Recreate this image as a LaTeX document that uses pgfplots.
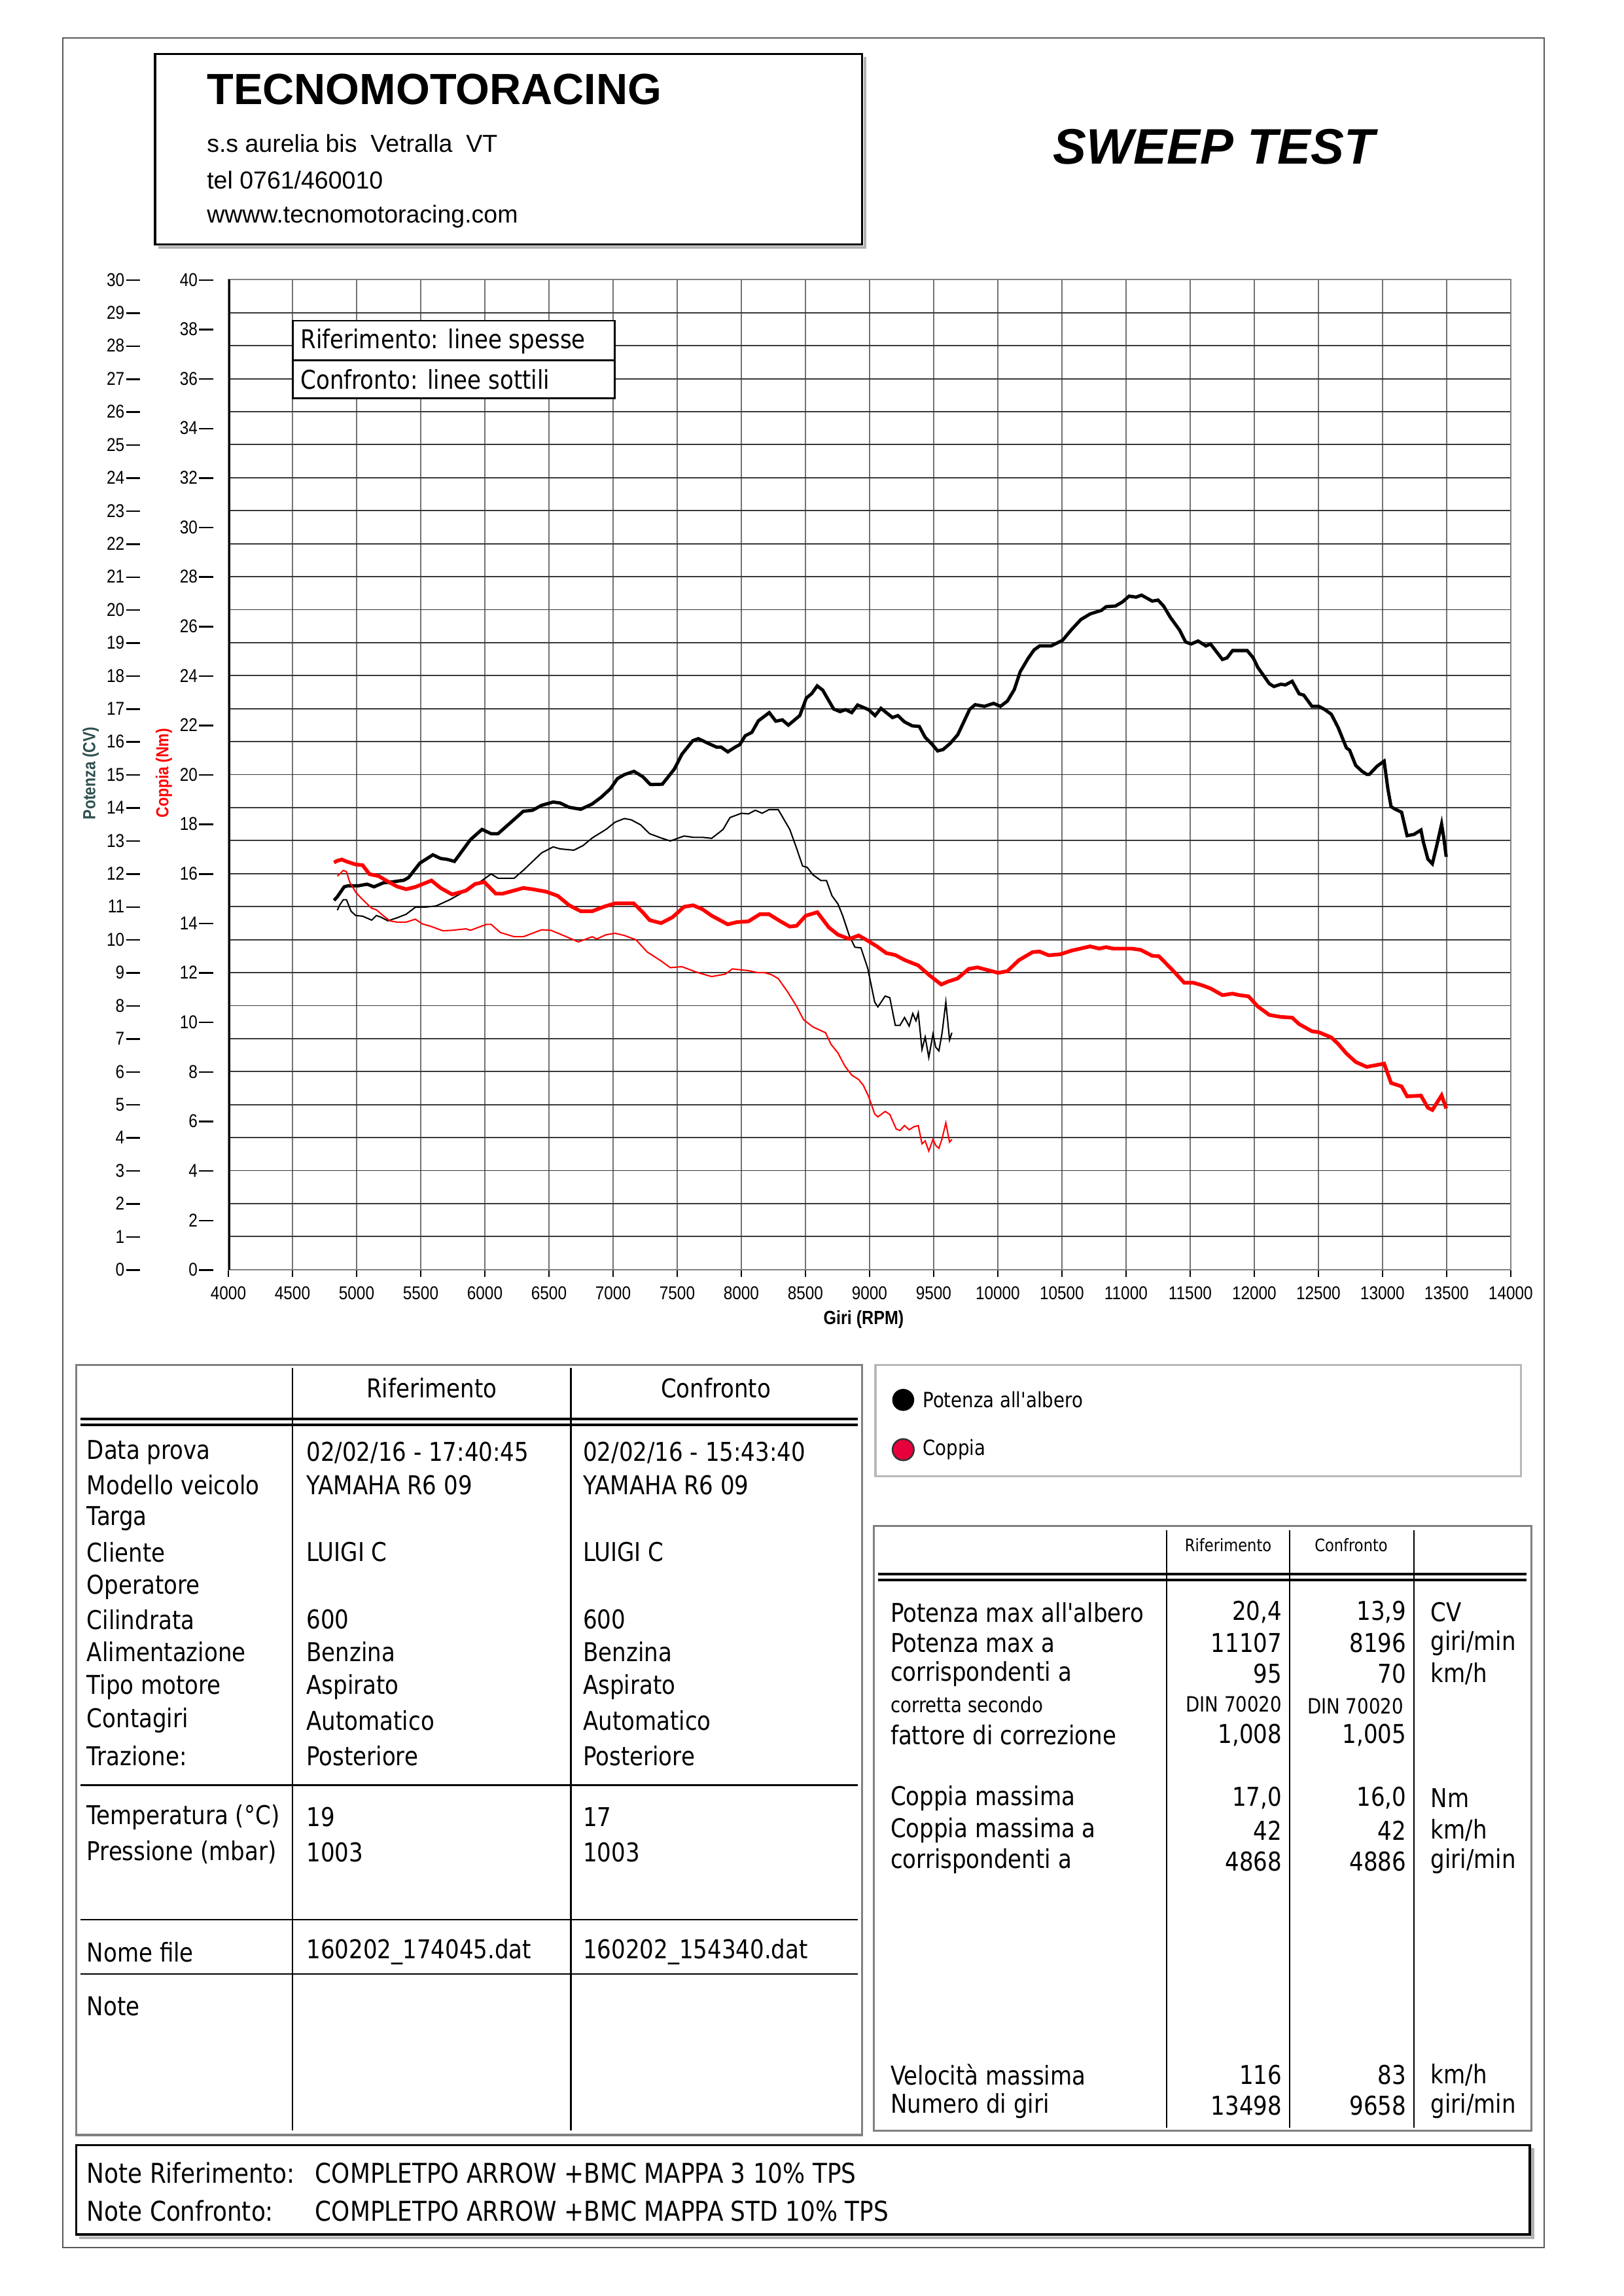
\documentclass[border=0pt]{standalone}
\usepackage{pgfplots}
\pgfplotsset{compat=1.18}
\usepackage{fontspec}
\setmainfont{Liberation Sans}
\newfontfamily\arial{Liberation Sans}
\newfontfamily\arialc[FakeStretch=0.86]{Liberation Sans}
\newfontfamily\tah[FakeStretch=0.86]{DejaVu Sans}
\definecolor{slate}{RGB}{47,79,79}
\definecolor{crim}{RGB}{232,0,60}
\definecolor{gridh}{gray}{0.22}
\definecolor{gridv}{gray}{0.45}
\definecolor{framec}{gray}{0.5}
\newcommand{\tickf}{\arialc\fontsize{6.8}{8}\selectfont}
\newcommand{\tf}{\tah\fontsize{9.5}{11}\selectfont}
\newcommand{\tfs}{\tah\fontsize{7.7}{9}\selectfont}
\newcommand{\tfx}{\tah\fontsize{6.3}{8}\selectfont}
\newcommand{\dashrule}{\hspace{0.6pt}\rule[0.28em]{0.75em}{0.6pt}}
\newcommand{\lrow}[4]{%
 \node[anchor=west, font=\tf] at (59,#1) {#2};
 \node[anchor=west, font=\tf] at (209,#1) {#3};
 \node[anchor=west, font=\tf] at (398,#1) {#4};}
\newcommand{\rrow}[5]{%
 \node[anchor=west, font=\tf] at (608,#1) {#2};
 \node[anchor=east, font=\tf] at (876,#1) {#3};
 \node[anchor=east, font=\tf] at (961,#1) {#4};
 \node[anchor=west, font=\tf] at (977,#1) {#5};}
\begin{document}
\begin{tikzpicture}
\useasboundingbox (0,0) rectangle (595.3pt,-841.7pt);
\fill[white] (0,0) rectangle (595.3pt,-841.7pt);

% ---------- power axis (CV) ----------
\begin{axis}[
  at={(83.74pt,-465.41pt)}, anchor=south west,
  scale only axis, width=470.24pt, height=362.88pt,
  xmin=4000, xmax=14000, ymin=0, ymax=30,
  xtick={4000,4500,...,14000}, ytick={0,1,...,30},
  xmajorgrids, ymajorgrids,
  x grid style={gridv, line width=0.45pt},
  y grid style={gridh, line width=0.45pt},
  axis line style={framec, line width=0.45pt},
  tick align=outside, xtick pos=bottom, ytick pos=left,
  major tick length=2.7pt,
  ytick style={draw=none},
  xtick style={black, line width=0.45pt},
  scaled x ticks=false,
  xticklabel={\pgfmathprintnumber[assume math mode=true, 1000 sep={}]{\tick}},
  xticklabel style={font=\tickf},
  yticklabel={\pgfmathprintnumber[assume math mode=true]{\tick}\dashrule},
  yticklabel style={font=\tickf, anchor=east, inner sep=0pt, xshift=-29.5pt},
]
\addplot[black, line width=1.2pt] coordinates {
(4824,11.19)(4850,11.30)(4903,11.60)(4932,11.63)(5011,11.63)(5082,11.68)(5136,11.60)(5208,11.72)(5280,11.75)(5369,11.80)(5405,11.88)(5494,12.32)(5595,12.57)(5655,12.46)(5709,12.43)(5763,12.37)(5888,13.03)(5978,13.34)(6049,13.21)(6103,13.21)(6193,13.52)(6300,13.89)(6372,13.92)(6443,14.07)(6533,14.17)(6587,14.14)(6658,14.01)(6748,13.95)(6837,14.11)(6909,14.32)(6981,14.58)(7034,14.88)(7088,15.00)(7163,15.10)(7231,14.94)(7291,14.70)(7384,14.71)(7478,15.17)(7537,15.62)(7622,16.03)(7665,16.09)(7741,15.95)(7809,15.83)(7844,15.83)(7895,15.69)(7946,15.82)(7988,15.91)(8031,16.18)(8082,16.28)(8133,16.63)(8218,16.88)(8269,16.62)(8320,16.66)(8367,16.50)(8456,16.79)(8507,17.32)(8550,17.46)(8592,17.69)(8635,17.56)(8720,16.99)(8770,16.91)(8813,16.97)(8861,16.88)(8907,17.11)(8992,16.97)(9043,16.79)(9089,17.01)(9179,16.73)(9221,16.79)(9272,16.60)(9332,16.48)(9388,16.46)(9434,16.13)(9485,15.93)(9531,15.72)(9573,15.76)(9627,15.94)(9688,16.21)(9781,16.98)(9824,17.12)(9896,17.07)(9967,17.16)(10021,17.07)(10075,17.23)(10129,17.58)(10175,18.12)(10236,18.52)(10283,18.78)(10326,18.90)(10415,18.90)(10505,19.07)(10576,19.40)(10648,19.70)(10720,19.87)(10809,19.98)(10845,20.09)(10917,20.11)(10971,20.23)(11024,20.41)(11078,20.38)(11121,20.44)(11204,20.26)(11250,20.29)(11293,20.11)(11347,19.76)(11418,19.38)(11465,19.02)(11508,18.96)(11562,19.05)(11623,18.90)(11659,18.96)(11752,18.49)(11788,18.54)(11831,18.76)(11945,18.76)(11992,18.54)(12028,18.25)(12117,17.76)(12153,17.67)(12207,17.74)(12243,17.72)(12296,17.83)(12350,17.45)(12386,17.41)(12450,17.07)(12504,17.07)(12547,16.98)(12601,16.83)(12654,16.43)(12719,15.81)(12744,15.74)(12791,15.28)(12841,15.10)(12877,15.01)(12898,15.01)(12959,15.26)(13013,15.41)(13042,14.57)(13067,14.03)(13096,13.96)(13149,13.86)(13192,13.15)(13246,13.19)(13300,13.32)(13318,12.97)(13354,12.44)(13389,12.30)(13425,12.88)(13461,13.50)(13479,13.06)(13497,12.51)};
\addplot[black, line width=0.5pt] coordinates {
(4850,10.89)(4867,11.04)(4896,11.21)(4921,11.21)(4957,10.86)(4993,10.73)(5047,10.71)(5118,10.59)(5154,10.73)(5190,10.68)(5244,10.57)(5315,10.66)(5387,10.77)(5458,10.98)(5548,10.99)(5620,11.02)(5727,11.21)(5870,11.52)(5978,11.79)(6049,11.99)(6103,11.86)(6229,11.86)(6300,12.10)(6443,12.63)(6533,12.81)(6587,12.75)(6694,12.71)(6766,12.85)(6837,13.08)(6945,13.34)(7016,13.56)(7088,13.67)(7142,13.63)(7214,13.48)(7285,13.21)(7375,13.08)(7446,12.99)(7554,13.14)(7625,13.10)(7697,13.10)(7769,13.07)(7858,13.34)(7912,13.70)(8001,13.83)(8055,13.81)(8109,13.92)(8163,13.83)(8216,13.94)(8288,13.94)(8324,13.70)(8378,13.34)(8431,12.77)(8478,12.23)(8514,12.19)(8557,11.97)(8621,11.79)(8664,11.79)(8707,11.33)(8754,11.08)(8790,10.73)(8843,10.11)(8886,9.77)(8933,9.75)(8986,9.13)(9040,8.11)(9065,7.96)(9122,8.29)(9158,8.24)(9201,7.40)(9237,7.40)(9273,7.64)(9309,7.38)(9337,7.76)(9362,7.54)(9380,7.78)(9409,6.67)(9434,7.05)(9462,6.43)(9495,7.14)(9516,6.74)(9541,6.63)(9566,7.18)(9595,8.11)(9624,6.96)(9642,7.18)};
\draw[black, line width=1.3pt] (axis cs:4000,0) -- (axis cs:4000,30);
\end{axis}

% ---------- torque axis (Nm) ----------
\begin{axis}[
  at={(83.74pt,-465.41pt)}, anchor=south west,
  scale only axis, width=470.24pt, height=362.88pt,
  xmin=4000, xmax=14000, ymin=0, ymax=40,
  hide x axis, axis y line*=left,
  y axis line style={draw=none},
  ytick={0,2,...,40}, ytick style={draw=none},
  yticklabel={\pgfmathprintnumber[assume math mode=true]{\tick}\dashrule},
  yticklabel style={font=\tickf, anchor=east, inner sep=0pt, xshift=-5.4pt},
]
\addplot[red, line width=1.35pt] coordinates {
(4824,16.45)(4850,16.52)(4885,16.57)(4921,16.49)(4993,16.37)(5047,16.34)(5100,15.98)(5172,15.90)(5244,15.68)(5315,15.48)(5387,15.37)(5458,15.46)(5584,15.72)(5655,15.42)(5745,15.16)(5852,15.31)(5924,15.58)(5996,15.66)(6085,15.19)(6139,15.19)(6300,15.42)(6372,15.37)(6479,15.27)(6569,15.10)(6658,14.72)(6748,14.48)(6837,14.48)(6927,14.66)(7016,14.80)(7160,14.80)(7231,14.44)(7285,14.12)(7375,14.00)(7464,14.24)(7554,14.66)(7625,14.72)(7697,14.56)(7769,14.30)(7894,13.95)(7966,14.04)(8055,14.07)(8145,14.36)(8216,14.36)(8306,14.07)(8378,13.86)(8431,13.89)(8503,14.30)(8593,14.44)(8682,13.83)(8754,13.53)(8843,13.36)(8915,13.50)(8986,13.29)(9058,13.06)(9130,12.79)(9201,12.71)(9273,12.51)(9380,12.29)(9470,11.88)(9559,11.52)(9613,11.64)(9685,11.76)(9774,12.15)(9842,12.21)(10003,11.99)(10075,12.06)(10164,12.50)(10272,12.83)(10326,12.85)(10397,12.70)(10487,12.74)(10576,12.89)(10720,13.06)(10791,12.97)(10845,13.03)(10899,12.97)(11042,12.97)(11114,12.92)(11204,12.68)(11257,12.66)(11365,12.09)(11454,11.59)(11526,11.59)(11598,11.48)(11659,11.36)(11752,11.09)(11831,11.15)(11884,11.09)(11956,11.04)(12028,10.63)(12081,10.43)(12117,10.29)(12207,10.21)(12296,10.18)(12350,9.92)(12450,9.63)(12504,9.59)(12601,9.38)(12654,9.12)(12719,8.73)(12791,8.39)(12877,8.19)(12959,8.27)(13013,8.32)(13067,7.54)(13149,7.40)(13192,7.00)(13300,7.03)(13354,6.54)(13389,6.45)(13461,7.04)(13497,6.51)};
\addplot[red, line width=0.5pt] coordinates {
(4850,15.90)(4867,15.98)(4896,16.13)(4921,16.08)(4946,15.66)(4993,15.25)(5047,14.95)(5118,14.60)(5154,14.54)(5208,14.30)(5261,14.09)(5315,14.04)(5387,14.04)(5458,14.16)(5512,13.97)(5584,13.86)(5673,13.69)(5745,13.71)(5852,13.77)(5888,13.71)(6013,13.95)(6049,13.95)(6121,13.62)(6229,13.45)(6300,13.45)(6443,13.73)(6515,13.71)(6622,13.48)(6730,13.24)(6837,13.45)(6873,13.36)(6945,13.53)(7016,13.59)(7088,13.50)(7178,13.33)(7267,12.83)(7375,12.47)(7446,12.20)(7536,12.24)(7661,12.00)(7769,11.84)(7876,11.94)(7930,12.15)(8001,12.11)(8055,12.08)(8127,12.00)(8180,12.00)(8234,11.92)(8288,11.76)(8360,11.23)(8431,10.64)(8485,10.10)(8557,9.81)(8657,9.57)(8700,9.10)(8754,8.75)(8808,8.22)(8861,7.86)(8915,7.68)(8951,7.45)(8994,6.98)(9040,6.29)(9065,6.17)(9122,6.39)(9158,6.27)(9208,5.68)(9237,5.62)(9273,5.82)(9309,5.65)(9345,5.77)(9380,5.82)(9409,5.08)(9434,5.20)(9462,4.79)(9495,5.26)(9516,5.02)(9541,4.90)(9566,5.30)(9595,5.93)(9624,5.15)(9642,5.26)};
\end{axis}

\begin{scope}[x=0.5368pt, y=-0.5368pt, every node/.style={inner sep=0pt}]
% outer frame
\draw[gray!70!black, line width=0.5pt] (43,26) rectangle (1055,1535);
% header
\draw[gray!60, line width=1pt] (108,169) -- (591,169) -- (591,39);
\draw[black, line width=0.8pt] (106,37) rectangle (589,167);
\node[anchor=west, font=\arial\bfseries\fontsize{16}{18}\selectfont] at (141,61) {TECNOMOTORACING};
\node[anchor=west, font=\arial\fontsize{9}{11}\selectfont] at (141,98) {s.s aurelia bis\ \ Vetralla\ \ VT};
\node[anchor=west, font=\arial\fontsize{9}{11}\selectfont] at (141,123) {tel 0761/460010};
\node[anchor=west, font=\arial\fontsize{9}{11}\selectfont] at (141,148) {wwww.tecnomotoracing.com};
\node[anchor=west, font=\arial\bfseries\itshape\fontsize{18.3}{20}\selectfont] at (719,100) {SWEEP TEST};

% axis titles
\node[rotate=90, font=\arialc\bfseries\fontsize{6.4}{7}\selectfont, text=slate] at (62,528) {Potenza (CV)};
\node[rotate=90, font=\arialc\bfseries\fontsize{6.4}{7}\selectfont, text=red] at (112,528) {Coppia (Nm)};
\node[font=\arialc\bfseries\fontsize{7}{8}\selectfont] at (590,901) {Giri (RPM)};

% in-chart legend
\draw[black, line width=0.6pt, fill=white] (200,219) rectangle (420,272);
\draw[black, line width=0.6pt] (200,246) -- (420,246);
\node[anchor=west, font=\tf] at (205,233) {Riferimento: linee spesse};
\node[anchor=west, font=\tf] at (205,259) {Confronto: linee sottili};

% left table
\draw[framec, line width=0.8pt] (52,932) rectangle (589,1458);
\draw[black, line width=0.5pt] (200,934) -- (200,1455);
\draw[black, line width=0.5pt] (390,934) -- (390,1455);
\draw[black, line width=0.8pt] (55,969) -- (586,969);
\draw[black, line width=0.8pt] (55,973) -- (586,973);
\draw[black, line width=0.6pt] (55,1219) -- (586,1219);
\draw[black, line width=0.6pt] (55,1311) -- (586,1311);
\draw[black, line width=0.6pt] (55,1348) -- (586,1348);
\node[font=\tf] at (295,948) {Riferimento};
\node[font=\tf] at (489,948) {Confronto};
\lrow{992}{Data prova}{02/02/16 - 17:40:45}{02/02/16 - 15:43:40}
\lrow{1014}{Modello veicolo}{YAMAHA R6 09}{YAMAHA R6 09}
\lrow{1037}{Targa}{}{}
\lrow{1060}{Cliente}{LUIGI C}{LUIGI C}
\lrow{1084}{Operatore}{}{}
\lrow{1106}{Cilindrata}{600}{600}
\lrow{1128}{Alimentazione}{Benzina}{Benzina}
\lrow{1152}{Tipo motore}{Aspirato}{Aspirato}
\lrow{1175}{Contagiri}{Automatico}{Automatico}
\lrow{1199}{Trazione:}{Posteriore}{Posteriore}
\lrow{1241}{Temperatura (°C)}{19}{17}
\lrow{1265}{Pressione (mbar)}{1003}{1003}
\lrow{1333}{Nome file}{160202\_174045.dat}{160202\_154340.dat}
\lrow{1370}{Note}{}{}

% legend box
\draw[gray!55, line width=0.8pt] (598,932) rectangle (1039,1008);
\fill[black] (617,956) circle (7.5);
\draw[black!80, line width=0.6pt, fill=crim] (617,990) circle (7.3);
\node[anchor=west, font=\tfs] at (630,956) {Potenza all'albero};
\node[anchor=west, font=\tfs] at (630,990) {Coppia};

% right table
\draw[framec, line width=0.8pt] (597,1042) rectangle (1046,1455);
\draw[black, line width=0.5pt] (797,1045) -- (797,1453);
\draw[black, line width=0.5pt] (881,1045) -- (881,1453);
\draw[black, line width=0.5pt] (966,1045) -- (966,1453);
\draw[black, line width=0.8pt] (600,1075) -- (1043,1075);
\draw[black, line width=0.8pt] (600,1079) -- (1043,1079);
\node[font=\tfx] at (839,1055) {Riferimento};
\node[font=\tfx] at (923,1055) {Confronto};
\rrow{1101}{Potenza max all'albero}{20,4}{13,9}{CV}
\rrow{1122}{Potenza max a}{11107}{8196}{giri/min}
\rrow{1143}{corrispondenti a}{95}{70}{km/h}
\rrow{1185}{fattore di correzione}{1,008}{1,005}{}
\rrow{1228}{Coppia massima}{17,0}{16,0}{Nm}
\rrow{1250}{Coppia massima a}{42}{42}{km/h}
\rrow{1271}{corrispondenti a}{4868}{4886}{giri/min}
\rrow{1417}{Velocità massima}{116}{83}{km/h}
\rrow{1438}{Numero di giri}{13498}{9658}{giri/min}
\node[anchor=west, font=\tfs] at (608,1164) {corretta secondo};
\node[anchor=east, font=\tfs] at (876,1164) {DIN 70020};
\node[anchor=east, font=\tfs] at (959,1165) {DIN 70020};

% notes
\draw[gray!60, line width=1pt] (54,1528) -- (1047,1528) -- (1047,1467);
\draw[black, line width=0.8pt] (52,1465) rectangle (1045,1526);
\node[anchor=west, font=\tah\fontsize{10}{12}\selectfont] at (59,1484) {Note Riferimento:};
\node[anchor=west, font=\tah\fontsize{10}{12}\selectfont] at (215,1484) {COMPLETPO ARROW +BMC MAPPA 3 10\% TPS};
\node[anchor=west, font=\tah\fontsize{10}{12}\selectfont] at (59,1510) {Note Confronto:};
\node[anchor=west, font=\tah\fontsize{10}{12}\selectfont] at (215,1510) {COMPLETPO ARROW +BMC MAPPA STD 10\% TPS};
\end{scope}
\end{tikzpicture}
\end{document}
